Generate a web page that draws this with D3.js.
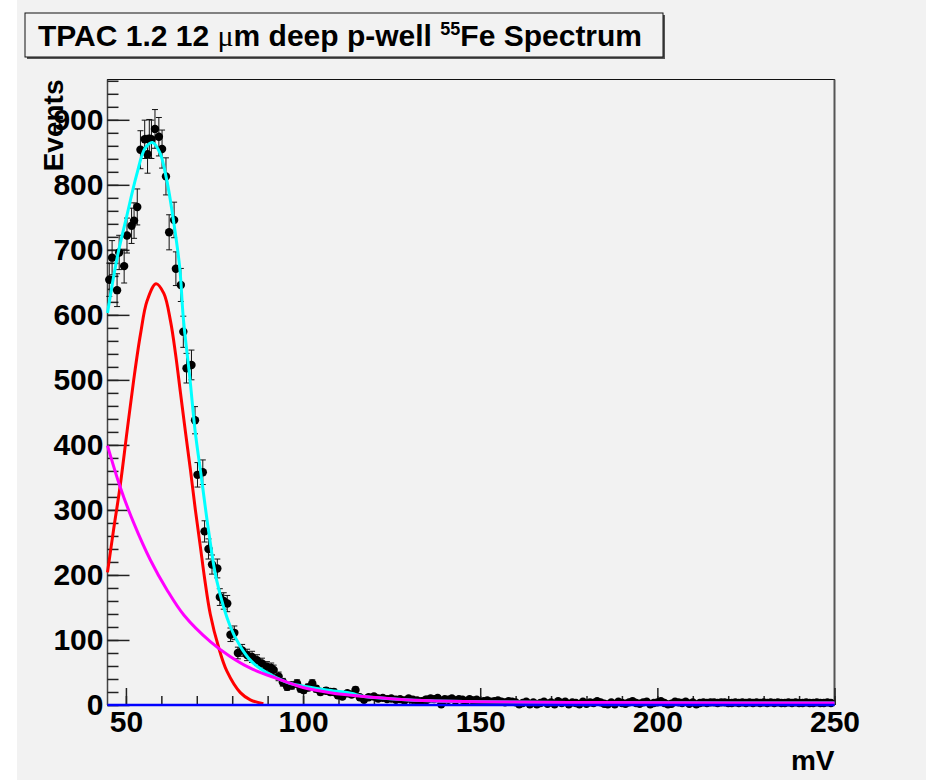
<!DOCTYPE html>
<html>
<head>
<meta charset="utf-8">
<script src="https://cdn.jsdelivr.net/npm/d3@7"></script>
<style>
  body { margin: 0; background: #fff; }
  svg text { font-family: "Liberation Sans", Arial, Helvetica, sans-serif; font-weight: bold; fill: #000; }
  .tick line { stroke: #222; stroke-width: 1.5; }
</style>
</head>
<body>
<svg id="chart" width="926" height="780"></svg>
<script>
// measured spectrum, [mV, events]
let points = [
  [45.3,654],[46.1,688],[47.5,638],[48.1,696],[49.5,675],[50.3,722],[51.6,737],[52.3,745],
  [53.2,766],[54.1,854],[55.3,870],[56.1,847],[56.6,871],[57.2,870],[58.2,886],[59.3,874],
  [60.2,855],[61.3,813],[62.2,727],[63.6,746],[64.1,671],[65.5,646],[66.2,574],[67.1,518],
  [68.5,523],[69.5,438],[70.2,354],[71.7,358],[72.2,267],[73.3,240],[74.3,216],[75.8,210],
  [76.5,166],[77.6,160],[78.6,156],[79.5,108],[80.6,111],[81.6,80],[82.8,84],[84.2,77],
  [85.6,74],[87.0,69],[88.4,64],[89.8,59],[91.0,57],[91.7,54],[93.1,44],[94.3,35],
  [95.5,28],[96.8,30],[98.3,33],[99.3,25],[100.2,23],[101.4,27],[102.6,33],[103.7,25],
  [104.9,20],[106.5,22],[107.7,20],[108.7,20],[109.8,15],[111.1,13],[112.5,18],[113.7,16],
  [114.8,23],[116.0,12],[117.2,8],[118.5,12],[120.0,13],[121.2,10],[122.5,11],[123.7,9],
  [124.9,10],[126.2,8],[127.4,9],[128.6,7],[129.8,10],[131.0,8],[132.2,7],[133.4,6],
  [134.6,8],[135,8],[136,10],[137,9],[138,11],[139,1],[140,9],[141,8],[142,10],[143,7],
  [144,9],[145,8],[146,6],[147,9],[148,7],[149,8],[150,5],[151,6],[152,7],[153,5],
  [154,6],[155,7],[156,5],[157,4],[158,6],[159,5],[160,4],[161,1],[162,3],[163,5],
  [164,1],[165,4],[166,1],[167,3],[168,5],[169,2],[170,4],[171,1],[172,6],[173,3],
  [174,5],[175,1],[176,4],[177,3],[178,1],[179,5],[180,2],[181,4],[182,3],[183,6],
  [184,4],[185,2],[186,1],[187,4],[188,1],[189,5],[190,3],[191,2],[192,4],[193,6],
  [194,3],[195,2],[196,4],[197,5],[198,1],[199,3],[200,4],[201,6],[202,3],[203,1],
  [204,2],[205,5],[206,4],[207,3],[208,5],[209,2],[210,4],[211,1],[212,3],[213,4],
  [214,3],[215,4],[216,4],[217,3],[218,4],[219,4],[220,3],[221,3],[222,4],[223,3],
  [224,4],[225,3],[226,4],[227,3],[228,4],[229,3],[230,4],[231,3],[232,4],[233,3],
  [234,4],[235,3],[236,3],[237,4],[238,3],[239,4],[240,3],[241,3],[242,4],[243,3],
  [244,3],[245,4],[246,3],[247,3],[248,4],[249,3]
];

// fit components
let gausCurve = [[44.8,204],[46.5,269],[48.4,338],[50.3,420],[52.2,500],[54.1,570],[56.0,622],
  [58.5,648],[60.7,633],[62.6,590],[64.0,540],[65.4,480],[66.8,420],[68.2,362],[69.6,300],
  [71.0,244],[72.2,195],[73.8,140],[76.2,88],[78.5,52],[82.3,19],[85.1,8],[88.8,2]];
let expoCurve = [[44.8,399],[48.4,335],[52.2,280],[56.9,223],[61.6,177],[66.4,138],[73.9,97],
  [79.3,75],[85.0,57],[92.5,41],[100,27],[107.7,19],[117.2,13],[126.6,9],[136,6.5],[150,5],
  [175,4],[200,3.5],[250,3]];
let totalCurve = [[44.8,603],[47.6,690],[50.2,751],[53.0,815],[55.4,856],[57.5,865],[59.6,849],
  [61.5,808],[63.4,746],[65.2,672],[66.2,595],[68.1,500],[69.5,423],[71.4,346],[73.3,269],
  [75.6,192],[79.5,120],[82.3,90],[85.1,69],[87.9,56],[91.7,44],[96.4,33],[101.1,28],
  [106.7,23],[113.5,18],[117.2,13],[126.6,9],[136,6.5],[150,5],[175,4],[200,3.5],[250,3]];
let baseCurve = [[44.8,0],[250,0]];

let xTicks = [50, 100, 150, 200, 250];
let yTicks = [0, 100, 200, 300, 400, 500, 600, 700, 800, 900];

let svg = d3.select("#chart");
let frame = {left: 107.5, right: 834.5, top: 79.5, bottom: 705};

svg.append("rect").attr("x", 0).attr("y", 0).attr("width", 926).attr("height", 780).attr("fill", "#fff");
svg.append("rect").attr("x", 17).attr("y", 0).attr("width", 909).attr("height", 780).attr("fill", "#f2f2f2");

let x = d3.scaleLinear().domain([44.8, 250]).range([frame.left, frame.right]);
let y = d3.scaleLinear().domain([0, 962]).range([frame.bottom, frame.top]);

// frame
svg.append("rect")
    .attr("x", frame.left).attr("y", frame.top)
    .attr("width", frame.right - frame.left).attr("height", frame.bottom - frame.top)
    .attr("fill", "#f2f2f2").attr("stroke", "#111").attr("stroke-width", 1);
svg.append("line")
    .attr("x1", frame.right).attr("x2", frame.right)
    .attr("y1", frame.top).attr("y2", frame.bottom)
    .attr("stroke", "#555").attr("stroke-width", 2);
svg.append("line")
    .attr("x1", frame.left).attr("x2", frame.left)
    .attr("y1", frame.top).attr("y2", frame.bottom)
    .attr("stroke", "#444").attr("stroke-width", 1.5);

// axes: minor ticks first, then major with labels
svg.append("g").attr("transform", `translate(${frame.left},0)`)
    .call(d3.axisLeft(y).ticks(48).tickSize(-11).tickFormat(""))
    .call(g => g.select(".domain").remove());
svg.append("g").attr("transform", `translate(0,${frame.bottom})`)
    .call(d3.axisBottom(x).ticks(20).tickSize(-9).tickFormat(""))
    .call(g => g.select(".domain").remove());

svg.append("g").attr("transform", `translate(${frame.left},0)`)
    .call(d3.axisLeft(y).tickValues(yTicks).tickSize(-22).tickPadding(4))
    .call(g => g.select(".domain").remove());
svg.append("g").attr("transform", `translate(0,${frame.bottom})`)
    .call(d3.axisBottom(x).tickValues(xTicks).tickSize(-17).tickPadding(6))
    .call(g => g.select(".domain").remove());
svg.selectAll(".tick text")
    .attr("font-family", null).attr("font-size", null)
    .style("font-size", "30px").style("font-weight", "bold").attr("fill", "#000");

// data points with error bars
let pts = svg.append("g");
pts.selectAll("line.err")
    .data(points)
    .enter().append("line")
    .attr("class", "err")
    .attr("x1", d => x(d[0])).attr("x2", d => x(d[0]))
    .attr("y1", d => y(d[1] + Math.sqrt(d[1]))).attr("y2", d => y(d[1] - Math.sqrt(d[1])))
    .attr("stroke", "#111").attr("stroke-width", 1);
[1, -1].forEach(s => {
    pts.selectAll("line.cap" + s)
        .data(points)
        .enter().append("line")
        .attr("x1", d => x(d[0]) - 3).attr("x2", d => x(d[0]) + 3)
        .attr("y1", d => y(d[1] + s * Math.sqrt(d[1]))).attr("y2", d => y(d[1] + s * Math.sqrt(d[1])))
        .attr("stroke", "#111").attr("stroke-width", 1);
});
pts.selectAll("circle")
    .data(points)
    .enter().append("circle")
    .attr("cx", d => x(d[0])).attr("cy", d => y(d[1]))
    .attr("r", 4.2).attr("fill", "#000");

// fit curves
let line = d3.line().x(d => x(d[0])).y(d => y(d[1])).curve(d3.curveCatmullRom.alpha(0.5));
let curves = [
    {data: gausCurve, color: "#ff0000", w: 3},
    {data: totalCurve, color: "#00ffff", w: 3},
    {data: expoCurve, color: "#ff00ff", w: 3},
    {data: baseCurve, color: "#0000ff", w: 2.5}
];
curves.forEach(c => {
    svg.append("path")
        .attr("d", line(c.data))
        .attr("fill", "none")
        .attr("stroke", c.color)
        .attr("stroke-width", c.w);
});

// axis titles
svg.append("text")
    .attr("transform", `translate(63,${frame.top}) rotate(-90)`)
    .attr("text-anchor", "end")
    .style("font-size", "28px")
    .text("Events");
svg.append("text")
    .attr("x", frame.right).attr("y", 770)
    .attr("text-anchor", "end")
    .style("font-size", "28px")
    .text("mV");

// title box
svg.append("rect")
    .attr("x", 27).attr("y", 15).attr("width", 638).attr("height", 44)
    .attr("fill", "#555");
svg.append("rect")
    .attr("x", 25).attr("y", 13).attr("width", 638).attr("height", 44)
    .attr("fill", "#f2f2f2").attr("stroke", "#111").attr("stroke-width", 1);
let title = svg.append("text")
    .attr("x", 340).attr("y", 46)
    .attr("text-anchor", "middle")
    .style("font-size", "30px");
title.append("tspan").text("TPAC 1.2 12 ");
title.append("tspan").style("font-family", "'Liberation Serif', serif").style("font-weight", "normal").text("μ");
title.append("tspan").text("m deep p-well ");
title.append("tspan").attr("dy", -11).style("font-size", "18px").text("55");
title.append("tspan").attr("dy", 11).text("Fe Spectrum");
</script>
</body>
</html>
